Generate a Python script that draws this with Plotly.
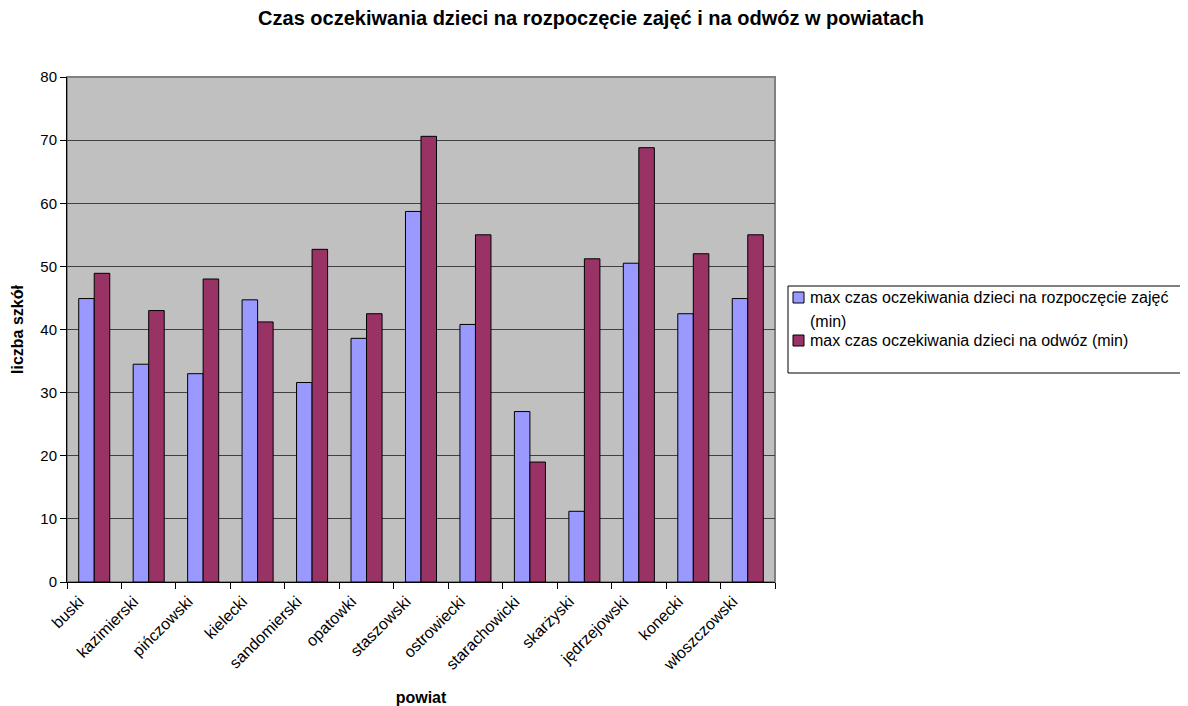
import plotly.graph_objects as go

categories = ["buski", "kazimierski", "pińczowski", "kielecki", "sandomierski", "opatowki",
              "staszowski", "ostrowiecki", "starachowicki", "skarżyski", "jędrzejowski",
              "konecki", "włoszczowski"]
start_wait = [44.9, 34.5, 33.0, 44.7, 31.6, 38.6, 58.7, 40.8, 27.0, 11.2, 50.5, 42.5, 44.9]
transport_wait = [48.9, 43.0, 48.0, 41.2, 52.7, 42.5, 70.6, 55.0, 19.0, 51.2, 68.8, 52.0, 55.0]
series_names = ["max czas oczekiwania dzieci na rozpoczęcie zajęć (min)",
                "max czas oczekiwania dzieci na odwóz (min)"]
legend_lines = [["max czas oczekiwania dzieci na rozpoczęcie zajęć", "(min)"],
                ["max czas oczekiwania dzieci na odwóz (min)"]]
series_colors = ["#9999FF", "#993366"]
y_ticks = [0, 10, 20, 30, 40, 50, 60, 70, 80]

FONT = "Liberation Sans, Arial, sans-serif"

# page offset (browser body margin) is 8px; plot area in page coords: x 67..775, y 77..582
L, T, PW, PH = 59, 69, 708, 505
W, H = 1180, 698


def px(xp):
    return (xp - 67) / PW


def py(yp):
    return (582 - yp) / PH


fig = go.Figure()
for name, vals, col in zip(series_names, [start_wait, transport_wait], series_colors):
    fig.add_trace(go.Bar(x=categories, y=vals, name=name, showlegend=False,
                         marker=dict(color=col, line=dict(color="black", width=1))))

shapes = [dict(type="rect", xref="paper", yref="paper", x0=0, x1=1, y0=0, y1=1,
               line=dict(color="#808080", width=2), layer="below")]
# legend box
shapes.append(dict(type="rect", xref="paper", yref="paper", x0=px(788), x1=px(1183),
                   y0=py(373), y1=py(286), line=dict(color="black", width=1),
                   fillcolor="white"))
annotations = []
sym_tops = [292, 335]
for i, (lines, col) in enumerate(zip(legend_lines, series_colors)):
    t = sym_tops[i]
    shapes.append(dict(type="rect", xref="paper", yref="paper", x0=px(793), x1=px(804),
                       y0=py(t + 11), y1=py(t), line=dict(color="black", width=1),
                       fillcolor=col))
    for j, line in enumerate(lines):
        annotations.append(dict(xref="paper", yref="paper", x=px(808), y=py(t + 5.5 + 24 * j),
                                xanchor="left", yanchor="middle", showarrow=False,
                                text=line, font=dict(size=16, family=FONT, color="black")))

fig.update_layout(
    width=W, height=H,
    margin=dict(l=L, r=W - L - PW, t=T, b=H - T - PH),
    paper_bgcolor="white", plot_bgcolor="#C0C0C0",
    font=dict(family=FONT, size=15, color="black"),
    title=dict(text="<b>Czas oczekiwania dzieci na rozpoczęcie zajęć i na odwóz w powiatach</b>",
               x=(591 - 8) / W, xanchor="center", xref="container",
               y=1 - (18 - 8) / H, yanchor="middle", yref="container",
               font=dict(size=20, family=FONT)),
    barmode="group", bargap=0.43, bargroupgap=0,
    showlegend=False,
    shapes=shapes,
    annotations=annotations,
)
fig.update_xaxes(
    showline=True, linecolor="black", linewidth=1,
    ticks="outside", tickson="boundaries", ticklen=6, tickcolor="black",
    tickangle=-45, tickfont=dict(size=16, family=FONT),
    ticklabelshift=-15, ticklabelstandoff=3,
    title=dict(text="<b>powiat</b>", font=dict(size=16, family=FONT), standoff=19),
    showgrid=False, automargin=False,
)
fig.update_yaxes(
    range=[0, 80], tickvals=y_ticks, showline=True, linecolor="black", linewidth=1,
    ticks="outside", ticklen=6, tickcolor="black",
    showgrid=True, gridcolor="#404040", gridwidth=1, zeroline=False,
    tickfont=dict(size=15, family=FONT), automargin=False,
    title=dict(text="<b>liczba szkół</b>", font=dict(size=16, family=FONT), standoff=12),
)

fig.write_html("out.html")
